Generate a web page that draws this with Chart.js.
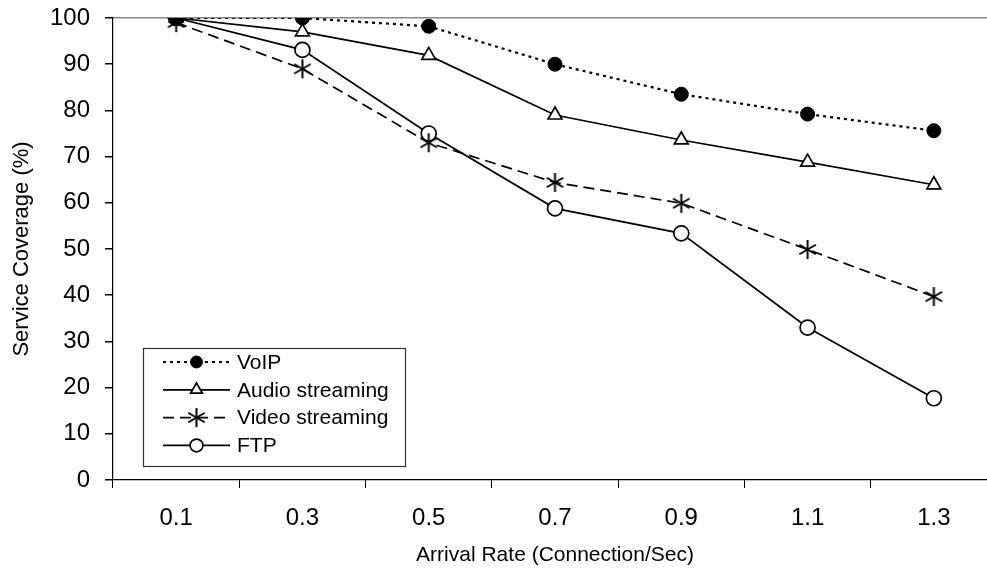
<!DOCTYPE html>
<html>
<head>
<meta charset="utf-8">
<script src="https://cdn.jsdelivr.net/npm/chart.js@4/dist/chart.umd.min.js"></script>
<style>
  html, body { margin: 0; padding: 0; background: #fff; overflow: hidden; }
  #wrap { width: 1010px; height: 573px; }
</style>
</head>
<body>
<div id="wrap"><canvas id="c" width="1010" height="573"></canvas></div>
<script>
// ---- data ----
const categories = ['0.1', '0.3', '0.5', '0.7', '0.9', '1.1', '1.3'];
const voip  = [100, 100, 98.2, 90.0, 83.5, 79.2, 75.6];
const audio = [100, 97.0, 91.9, 79.0, 73.6, 68.8, 63.9];
const video = [99.0, 89.0, 73.0, 64.4, 59.9, 49.9, 39.7];
const ftp   = [100, 93.1, 75.0, 58.8, 53.4, 33.0, 17.7];
const seriesNames = ['VoIP', 'Audio streaming', 'Video streaming', 'FTP'];
const yTitle = 'Service Coverage (%)';
const xTitle = 'Arrival Rate (Connection/Sec)';

const FONT = "'Liberation Sans', Arial, Helvetica, sans-serif";

// six-armed asterisk marker
function makeAsterisk(r, lw) {
  const s = Math.ceil(r * 2 + 4);
  const cv = document.createElement('canvas');
  cv.width = s; cv.height = s;
  const g = cv.getContext('2d');
  g.strokeStyle = '#000'; g.lineWidth = lw; g.lineCap = 'butt';
  const c = s / 2;
  [90, 30, 150].forEach(a => {
    const t = a * Math.PI / 180;
    g.beginPath();
    g.moveTo(c - Math.cos(t) * r, c - Math.sin(t) * r);
    g.lineTo(c + Math.cos(t) * r, c + Math.sin(t) * r);
    g.stroke();
  });
  return cv;
}
const asterisk = makeAsterisk(9.5, 2);

const datasets = [
  { label: seriesNames[0], data: voip, borderColor: '#000', borderWidth: 2.2, borderDash: [3, 4],
    pointStyle: 'circle', pointRadius: 7, pointBackgroundColor: '#000', pointBorderColor: '#000', pointBorderWidth: 1 },
  { label: seriesNames[1], data: audio, borderColor: '#000', borderWidth: 1.7, borderDash: [],
    pointStyle: 'triangle', pointRadius: 8, pointBackgroundColor: '#fff', pointBorderColor: '#000', pointBorderWidth: 1.7 },
  { label: seriesNames[2], data: video, borderColor: '#000', borderWidth: 1.7, borderDash: [11, 6],
    pointStyle: asterisk, pointRadius: 9.5, pointBackgroundColor: '#000', pointBorderColor: '#000', pointBorderWidth: 1 },
  { label: seriesNames[3], data: ftp, borderColor: '#000', borderWidth: 1.7, borderDash: [],
    pointStyle: 'circle', pointRadius: 7.5, pointBackgroundColor: '#fff', pointBorderColor: '#000', pointBorderWidth: 1.7 }
];
datasets.forEach(d => { d.fill = false; d.tension = 0; d.pointHoverRadius = d.pointRadius; });

// legend drawn inside the plot
const boxLegend = {
  id: 'boxLegend',
  afterDatasetsDraw(chart, args, opts) {
    const ctx = chart.ctx;
    ctx.save();
    ctx.fillStyle = '#fff';
    ctx.fillRect(opts.x, opts.y, opts.w, opts.h);
    ctx.strokeStyle = '#333';
    ctx.lineWidth = 1.2;
    ctx.strokeRect(opts.x + 0.5, opts.y + 0.5, opts.w, opts.h);
    chart.data.datasets.forEach((ds, i) => {
      const y = opts.y + opts.firstY + i * opts.step;
      const x1 = opts.x + opts.lineX1, x2 = opts.x + opts.lineX2, xm = (x1 + x2) / 2;
      ctx.strokeStyle = ds.borderColor;
      ctx.lineWidth = ds.borderWidth;
      ctx.setLineDash(ds.borderDash || []);
      ctx.beginPath(); ctx.moveTo(x1, y); ctx.lineTo(x2, y); ctx.stroke();
      ctx.setLineDash([]);
      const r = ds.pointRadius * opts.markerScale;
      ctx.lineWidth = ds.pointBorderWidth;
      ctx.fillStyle = ds.pointBackgroundColor;
      if (ds.pointStyle === 'circle') {
        ctx.beginPath(); ctx.arc(xm, y, r, 0, Math.PI * 2); ctx.fill(); ctx.stroke();
      } else if (ds.pointStyle === 'triangle') {
        let a = 0;
        ctx.beginPath();
        ctx.moveTo(xm + Math.sin(a) * r, y - Math.cos(a) * r);
        a += 2 * Math.PI / 3; ctx.lineTo(xm + Math.sin(a) * r, y - Math.cos(a) * r);
        a += 2 * Math.PI / 3; ctx.lineTo(xm + Math.sin(a) * r, y - Math.cos(a) * r);
        ctx.closePath(); ctx.fill(); ctx.stroke();
      } else {
        const im = ds.pointStyle;
        ctx.drawImage(im, xm - im.width / 2, y - im.height / 2);
      }
      ctx.fillStyle = '#000';
      ctx.font = opts.font;
      ctx.textBaseline = 'middle';
      ctx.textAlign = 'left';
      ctx.fillText(ds.label, opts.x + opts.textX, y + 1);
    });
    ctx.restore();
  }
};

new Chart(document.getElementById('c'), {
  type: 'line',
  data: { labels: categories, datasets },
  plugins: [boxLegend],
  options: {
    responsive: false,
    animation: false,
    devicePixelRatio: 1,
    layout: { padding: { top: 18, right: 13, bottom: 0, left: 0 } },
    plugins: {
      legend: { display: false },
      tooltip: { enabled: false },
      boxLegend: {
        x: 143, y: 348, w: 262, h: 118,
        firstY: 14, step: 27.8,
        lineX1: 20, lineX2: 87, textX: 94,
        markerScale: 0.85,
        font: "21px " + FONT
      }
    },
    scales: {
      x: {
        type: 'category',
        offset: true,
        afterFit(s) { s.height = 93; s.paddingLeft = 0; s.paddingRight = 0; },
        grid: { offset: true, drawOnChartArea: false, drawTicks: true, tickLength: 8, color: '#000', tickColor: '#000', lineWidth: 1 },
        border: { display: true, color: '#000', width: 1.2 },
        ticks: { color: '#000', padding: 16, font: { family: FONT, size: 24 }, maxRotation: 0 },
        title: { display: true, text: xTitle, color: '#000', font: { family: FONT, size: 21 }, padding: { top: 0, bottom: 5 } }
      },
      y: {
        min: 0, max: 100,
        afterFit(s) { s.width = 113; s.paddingTop = 0; s.paddingBottom = 0; },
        grid: {
          drawOnChartArea: true, drawTicks: true, tickLength: 8,
          color: (c) => (c.tick && c.tick.value === 100) ? '#888' : 'rgba(0,0,0,0)',
          tickColor: '#000', lineWidth: 1.5
        },
        border: { display: true, color: '#000', width: 1.2 },
        ticks: { stepSize: 10, color: '#000', padding: 15, font: { family: FONT, size: 24 } },
        title: { display: true, text: yTitle, color: '#000', font: { family: FONT, size: 22 }, padding: { top: 9, bottom: 0 } }
      }
    }
  }
});
</script>
</body>
</html>
